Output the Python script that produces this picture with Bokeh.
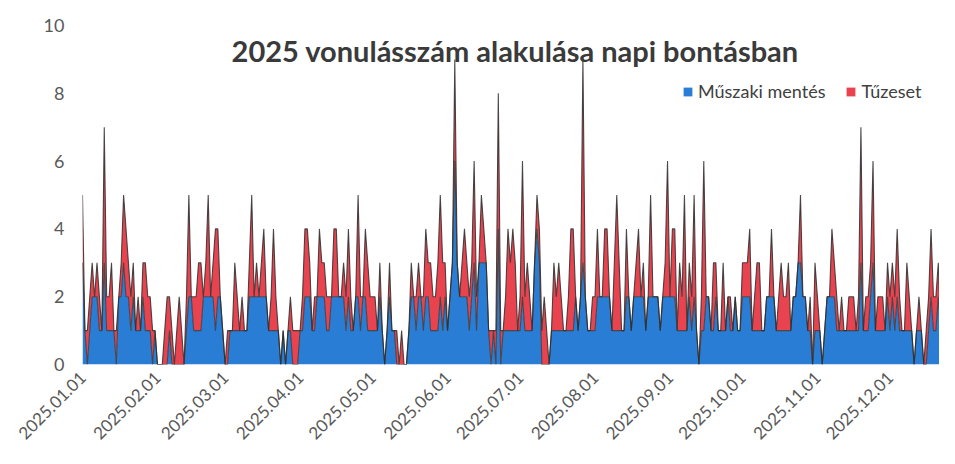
import math
from bokeh.plotting import figure
from bokeh.models import ColumnDataSource, FixedTicker, Legend, LegendItem, Label, Range1d
from bokeh.embed import file_html
from bokeh.resources import INLINE

# ---- data (daily counts, 2025.01.01 onwards) ----
muszaki_mentes = [
    # Jan
    3,1,0,1,2,2,2,1,1,3,1,1,1,1,0,2,2,3,2,2,1,2,1,1,1,2,1,1,1,0,1,
    # Feb
    0,0,0,0,0,1,0,0,0,0,0,0,1,2,2,1,1,1,1,2,2,2,2,2,1,2,2,1,
    # Mar
    0,0,1,1,1,1,1,1,1,1,2,2,2,2,2,2,2,2,1,1,1,1,1,0,1,0,1,1,0,0,0,
    # Apr
    1,1,2,2,2,1,1,2,2,2,2,1,1,2,2,2,2,2,2,1,2,1,1,2,2,1,2,2,1,1,
    # May
    1,1,1,2,1,0,1,2,1,1,0,0,0,0,0,1,2,2,1,2,2,1,2,2,1,1,1,1,2,1,2,
    # Jun
    1,2,3,6,3,2,2,2,2,1,2,3,1,3,3,3,3,1,0,1,0,4,0,1,1,1,1,1,1,1,
    # Jul
    1,2,1,1,1,1,3,4,3,0,0,0,0,1,1,1,1,1,1,1,1,1,1,2,1,2,3,2,1,1,1,
    # Aug
    1,2,2,2,2,2,2,1,1,1,1,1,1,2,2,1,2,2,2,2,2,1,2,2,2,2,2,1,2,2,2,
    # Sep
    2,2,2,1,1,1,1,1,2,1,2,1,0,1,1,2,2,1,1,2,1,1,1,1,2,1,1,2,1,1,
    # Oct
    2,2,2,2,1,1,1,1,1,1,2,2,2,2,1,1,1,1,1,1,1,2,2,3,3,2,2,1,1,0,1,
    # Nov
    1,1,0,1,2,2,2,2,1,1,1,1,1,1,1,1,1,1,3,1,1,1,2,3,1,1,1,1,1,2,
    # Dec
    1,2,1,2,1,1,1,1,1,1,0,1,1,1,0,0,1,2,1,1,2,1,1,1,1,
]
tuzeset = [
    # Jan
    2,0,1,1,1,0,1,1,0,4,1,1,2,0,1,0,1,2,2,1,1,1,0,1,0,1,2,1,1,1,0,
    # Feb
    0,0,0,1,2,1,1,0,1,2,1,0,1,3,0,1,1,2,2,0,1,3,0,1,3,2,0,0,
    # Mar
    0,1,0,0,2,1,0,1,0,0,1,3,0,1,0,1,2,0,0,1,3,1,0,0,0,0,0,1,1,1,1,
    # Apr
    0,1,2,2,1,0,1,0,2,1,1,1,1,0,2,2,0,0,1,1,2,1,0,0,3,1,0,2,2,1,
    # May
    1,1,0,1,0,0,0,1,0,0,1,0,1,0,0,0,1,0,1,1,0,1,2,1,2,1,1,2,3,2,1,
    # Jun
    0,0,0,3,0,0,1,2,1,1,1,3,1,0,2,1,0,0,1,0,1,4,1,0,1,3,2,3,2,0,
    # Jul
    1,4,1,2,1,0,0,1,1,1,2,1,0,0,2,1,2,1,0,0,1,3,3,0,0,0,6,0,0,0,1,
    # Aug
    1,2,0,0,2,2,0,0,2,4,2,0,0,2,0,0,0,1,2,0,1,0,0,3,0,0,0,0,0,1,4,
    # Sep
    0,2,2,0,2,1,4,0,1,1,3,0,0,1,5,0,0,0,2,1,0,0,2,0,0,1,0,0,0,0,
    # Oct
    1,1,1,2,0,1,2,2,0,0,0,0,2,0,0,1,2,1,1,2,0,0,0,0,2,0,0,0,1,0,2,
    # Nov
    1,0,0,0,0,0,2,1,1,0,1,0,0,1,1,1,0,1,4,0,1,1,1,3,0,1,1,1,0,1,
    # Dec
    1,1,1,2,1,0,0,2,1,0,0,0,1,0,0,1,1,2,1,1,1,0,0,1,1,
]
series_names = ["Műszaki mentés", "Tűzeset"]
month_start_days = [0, 31, 59, 90, 120, 151, 181, 212, 243, 273, 304, 334]
month_labels = ["2025.01.01", "2025.02.01", "2025.03.01", "2025.04.01",
                "2025.05.01", "2025.06.01", "2025.07.01", "2025.08.01",
                "2025.09.01", "2025.10.01", "2025.11.01", "2025.12.01"]
y_ticks = [0, 2, 4, 6, 8, 10]
title_text = "2025 vonulásszám alakulása napi bontásban"

n = min(len(muszaki_mentes), len(tuzeset))
src = ColumnDataSource(dict(
    day=list(range(n)),
    muszaki=muszaki_mentes[:n],
    tuzeset=tuzeset[:n],
))

BLUE = "#2a7dd4"
RED = "#e8434f"
FONT = "Lato"

p = figure(width=939, height=448, x_range=Range1d(0, 354.5), y_range=Range1d(0, 10),
           output_backend="svg", toolbar_location=None,
           min_border_left=82, min_border_right=0, min_border_top=25, min_border_bottom=83)
p.outline_line_color = None
p.xgrid.visible = False
p.ygrid.visible = False
p.background_fill_color = "white"

areas = p.varea_stack(["muszaki", "tuzeset"], x="day", color=[BLUE, RED], source=src)
p.vline_stack(["muszaki", "tuzeset"], x="day", color=["#3c3c3c", "#2e2e2e"],
              line_width=1.1, line_alpha=0.85, source=src)

# axes
p.yaxis.ticker = FixedTicker(ticks=y_ticks)
p.yaxis.axis_line_color = None
p.yaxis.major_tick_line_color = None
p.yaxis.minor_tick_line_color = None
p.yaxis.major_label_text_font = FONT
p.yaxis.major_label_text_font_size = "18px"
p.yaxis.major_label_text_color = "#595959"
p.yaxis.major_label_standoff = 12

p.xaxis.ticker = FixedTicker(ticks=month_start_days)
p.xaxis.major_label_overrides = {d: lab for d, lab in zip(month_start_days, month_labels)}
p.xaxis.major_label_orientation = math.pi / 4
p.xaxis.axis_line_color = None
p.xaxis.major_tick_line_color = None
p.xaxis.minor_tick_line_color = None
p.xaxis.major_label_text_font = FONT
p.xaxis.major_label_text_font_size = "17px"
p.xaxis.major_label_text_color = "#595959"
p.xaxis.major_label_standoff = 4

# title inside the plot area
p.add_layout(Label(x=179, y=9.27, text=title_text, text_align="center",
                   text_baseline="middle", text_font=FONT, text_font_style="bold",
                   text_font_size="29px", text_color="#3a3a3a"))

legend = Legend(items=[LegendItem(label=series_names[0], renderers=[areas[0]]),
                       LegendItem(label=series_names[1], renderers=[areas[1]])],
                orientation="horizontal", location=(600, 262),
                label_text_font=FONT, label_text_font_size="18px", label_text_color="#404040",
                glyph_width=11, glyph_height=11, label_standoff=5, spacing=20,
                padding=0, margin=0, background_fill_alpha=0, border_line_color=None)
p.add_layout(legend)

open("out.html", "w").write(file_html(p, INLINE))
